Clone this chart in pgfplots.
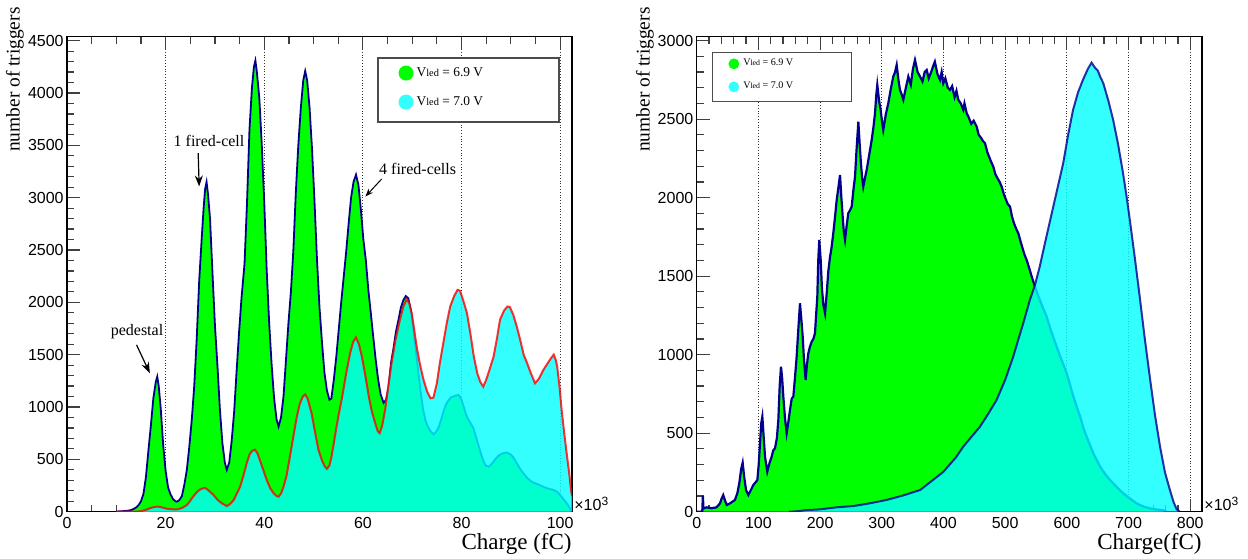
\documentclass[border=0pt]{standalone}
\usepackage{fontspec}
\setmainfont{Liberation Serif}
\setsansfont{Liberation Sans}
\usepackage{pgfplots}
\usepackage{pgfplotstable}
\pgfplotsset{compat=1.18}
\usetikzlibrary{arrows.meta}

\definecolor{hgreen}{RGB}{0,255,0}
\definecolor{hcyan}{RGB}{0,255,255}
\definecolor{hnavy}{RGB}{0,0,140}
\definecolor{hred}{RGB}{255,0,0}

% ---------------- left panel: Vled = 6.9 V ----------------
\pgfplotstableread{
x y
10.0 0
10.5 3
11.0 4
11.5 6
12.0 8
12.5 11
13.0 16
13.5 26
14.0 40
14.5 62
15.0 100
15.5 170
16.0 330
16.5 580
17.0 820
17.5 1080
18.0 1240
18.3 1290
18.6 1200
19.0 990
19.5 640
20.0 390
20.5 230
21.0 165
21.5 120
22.0 100
22.3 96
22.8 112
23.3 150
23.8 260
24.3 400
24.8 620
25.3 880
25.8 1200
26.3 1650
26.8 2200
27.3 2600
27.7 2900
28.0 3080
28.3 3150
28.6 3030
29.0 2800
29.5 2280
30.0 1780
30.5 1400
31.0 980
31.5 660
32.0 470
32.4 400
32.9 470
33.4 680
33.9 960
34.4 1350
34.9 1720
35.4 2050
36.0 2370
36.5 2950
37.0 3650
37.5 4050
37.9 4250
38.2 4310
38.5 4200
39.0 3950
39.5 3500
40.0 2950
40.5 2300
41.0 1800
41.5 1400
42.0 1080
42.5 880
42.9 813
43.4 900
43.9 1100
44.4 1450
44.9 1800
45.4 2100
45.9 2500
46.4 3050
46.9 3500
47.4 3850
47.9 4120
48.3 4210
48.7 4120
49.2 3850
49.7 3450
50.2 2950
50.7 2400
51.2 1950
51.7 1620
52.2 1330
52.7 1160
53.2 1070
53.6 1080
54.1 1260
54.6 1480
55.1 1740
55.6 2000
56.1 2240
56.6 2480
57.1 2750
57.6 3000
58.1 3150
58.6 3220
59.1 3120
59.6 2880
60.1 2600
60.6 2400
61.1 2120
61.6 1900
62.1 1670
62.6 1450
63.1 1260
63.6 1120
64.2 1040
64.7 1070
65.2 1190
65.7 1420
66.2 1560
66.7 1720
67.2 1830
67.7 1950
68.2 2020
68.7 2060
69.2 2040
69.7 1930
70.2 1750
70.7 1560
71.2 1350
71.7 1150
72.2 980
72.7 870
73.2 810
73.7 770
74.3 740
74.8 760
75.3 800
75.8 870
76.3 950
76.8 1020
77.3 1060
77.8 1090
78.3 1100
78.8 1110
79.4 1115
79.9 1080
80.4 1010
80.9 930
81.4 880
81.9 840
82.4 800
82.9 720
83.4 640
83.9 560
84.4 490
84.9 440
85.5 430
86.0 450
86.5 480
87.0 510
87.5 535
88.0 550
88.5 560
89.0 565
89.5 558
90.0 545
90.5 520
91.0 480
91.5 440
92.0 400
92.5 370
93.0 340
93.5 315
94.0 295
94.5 280
95.0 270
95.5 262
96.0 250
96.5 240
97.0 230
97.5 222
98.0 215
98.5 210
99.0 200
99.5 185
100.0 160
100.5 130
101.0 100
101.5 70
102.0 30
102.4 0
}\gL

% ---------------- left panel: Vled = 7.0 V ----------------
\pgfplotstableread{
x y
10.0 0
14.0 0
15.0 5
16.0 18
17.0 36
17.5 42
18.0 47
18.5 48
19.0 44
19.5 38
20.2 29
21.0 24
22.3 22
23.3 35
24.3 64
25.0 105
25.5 140
26.0 169
26.5 195
27.0 212
27.5 222
28.0 226
28.5 212
29.0 190
29.7 160
30.5 115
31.4 80
32.4 54
33.1 75
33.8 112
34.4 170
35.1 239
35.8 350
36.45 466
37.0 545
37.5 580
38.1 592
38.6 560
39.1 494
39.8 400
40.5 303
41.2 225
41.9 176
42.5 150
42.9 143
43.4 175
43.9 239
44.5 340
45.2 526
45.9 720
46.6 908
47.2 1030
47.8 1100
48.3 1120
48.8 1080
49.6 940
50.3 760
51.0 590
51.7 490
52.3 430
52.7 410
53.2 440
53.6 520
54.1 654
54.6 800
55.1 930
55.8 1100
56.6 1320
57.4 1514
58.0 1620
58.6 1665
59.2 1600
59.8 1482
60.5 1300
61.2 1100
61.8 960
62.5 845
63.0 770
63.4 750
63.9 820
64.5 972
65.1 1180
65.8 1419
66.6 1640
67.5 1833
68.2 1960
68.9 2030
69.4 1990
69.9 1897
70.4 1740
70.9 1578
71.6 1400
72.3 1259
73.0 1150
73.7 1084
74.3 1090
75.0 1227
75.6 1420
76.3 1610
77.0 1800
77.7 1960
78.5 2060
79.2 2120
79.7 2110
80.4 2010
81.1 1897
81.8 1700
82.5 1480
83.2 1320
83.8 1240
84.4 1195
85.0 1260
85.7 1360
86.5 1482
87.2 1660
87.8 1833
88.6 1920
89.3 1960
89.8 1955
90.5 1880
91.2 1769
92.0 1620
92.6 1500
93.3 1419
94.0 1330
94.9 1227
95.7 1270
96.6 1355
97.5 1420
98.2 1470
98.7 1500
99.1 1450
99.4 1386
99.9 1180
100.3 972
100.8 760
101.4 526
101.8 380
102.2 207
102.4 150
}\cL

% ---------------- right panel: Vled = 6.9 V ----------------
\pgfplotstableread{
x y
0 0
9 0
10 100
11 20
16 28
24 22
32 28
37.8 53
40 80
43 106
46 70
48.6 43
54 53
62 75
66 120
69 181
72 270
74.5 312
77 220
80 138
83.7 106
88 140
91.8 170
96 190
98.3 202
100.5 300
102.6 436
104.5 560
106.4 605
108.5 480
110.7 350
114.4 255
118 310
121.5 350
124 390
126.9 404
130 470
132.3 584
134.5 800
136.6 924
138.5 850
140.4 733
143 600
145.8 500
148.5 570
151.2 648
154 720
156.6 733
159 840
162 987
164.5 1150
167.4 1327
169.5 1230
171.8 1115
174 960
176.6 839
178.5 930
180.9 1009
183.5 1050
186.4 1083
189 1100
191.7 1136
193.5 1250
195.5 1370
197 1600
198.7 1731
201 1600
203 1420
205.2 1320
208 1264
210.5 1380
213.3 1530
216 1620
218.5 1680
221.4 1774
224 1870
226.9 1985
229.5 2060
232.3 2144
234.5 2000
236.6 1879
238.5 1780
240.4 1731
243 1820
245.7 1901
248.5 1920
251.2 1943
254 2050
256.6 2134
259 2300
262 2484
264 2350
265.8 2240
268 2130
270 2070
273 2130
275.5 2177
279.5 2270
283.6 2367
286.5 2450
289 2538
291 2650
292.7 2718
295.5 2620
298.2 2559
300.5 2480
302.4 2431
306.5 2530
310.5 2601
314.5 2690
318.6 2771
321.5 2800
324.1 2845
327 2750
329.5 2686
332 2660
334.9 2623
339 2700
343 2771
347 2720
350.5 2820
353.8 2877
358 2800
362 2771
366 2740
369.5 2800
372.8 2813
376 2760
380 2800
383 2835
386 2866
390 2790
394.3 2750
397 2800
399.7 2729
403 2760
407 2700
410.5 2686
414 2710
418 2640
421 2680
424 2623
428 2600
432 2560
434 2600
437.6 2538
441 2510
445 2470
449 2490
453.8 2452
457 2400
461 2380
464 2360
467.3 2347
471 2290
474 2260
477 2230
480.7 2198
484 2150
488 2120
491 2100
494.3 2070
498 2020
501 1990
504 1960
507.8 1943
511 1880
514 1840
518 1800
521.3 1773
525 1720
528 1680
531 1640
534.8 1603
539 1550
543 1497
548.3 1433
553 1380
558 1330
562 1290
567.3 1242
572 1180
578 1110
583.5 1051
589 990
594 940
599.7 882
605 810
610 740
615.9 669
622 600
627 530
632 478
638 420
643 370
648.3 329
655 280
662 240
670 202
680 160
691.4 117
700 90
713 53
724 33
734.7 21
745 14
756 9
762 0
}\gR

% ---------------- right panel: Vled = 7.0 V ----------------
\pgfplotstableread{
x y
150 0
160 2
178 10
200 15
227 28
254 36
280 53
308 75
335 104
362 138
383 202
400 255
420 345
432 414
446 480
459 541
472 620
486 711
500 840
513 987
520 1080
530 1210
540 1349
548 1440
556 1561
565 1720
573 1858
583 2030
594 2219
602 2400
610 2559
618 2670
626 2750
634 2820
640 2860
645 2830
650 2810
654 2770
659 2729
667 2620
675 2495
683 2340
691 2156
697 2000
702 1858
710 1620
718 1370
726 1110
735 839
743 610
751 414
759 250
767 138
773 60
778 15
783 0
}\cR

\pgfplotsset{
  hist/.style={
    scale only axis,
    ymin=0,
    axis line style={black, line width=0.7pt},
    tick align=inside, ytick pos=left, xtick pos=both,
    major tick length=6.5pt, minor tick length=3.5pt,
    every tick/.style={black!75, line width=0.6pt},
    xmajorgrids,
    major grid style={black!80, densely dotted, line width=0.4pt},
    scaled ticks=false,
    tick label style={font=\fontsize{8}{9}\selectfont\sffamily},
    /pgf/number format/assume math mode=true,
    /pgf/number format/1000 sep={},
    xticklabel style={inner sep=0pt, yshift=-2.5pt},
    yticklabel style={inner sep=0pt, xshift=-1.5pt},
    legend cell align=left,
  },
  legbox/.style={
    legend style={inner sep=0pt, outer sep=0pt, row sep=0pt, column sep=0pt,
      draw=black!70, line width=0.6pt, fill=white,
      nodes={inner sep=0pt, font=\fontsize{#1}{#1}\selectfont}},
  },
}

\newcommand{\vled}[3]{V{\fontsize{#1}{#1}\selectfont led} = #2 V}

\begin{document}
\begin{tikzpicture}
\useasboundingbox (0,0) rectangle (624pt,279pt);

% ====================== LEFT ======================
\begin{axis}[hist, name=L,
  at={(33.5pt,23.15pt)}, anchor=south west,
  width=252.5pt, height=237.5pt,
  xmin=0, xmax=102.4, ymax=4538,
  xtick={0,20,...,100}, minor x tick num=3,
  ytick={0,500,...,4500}, minor y tick num=4,
  legbox=6.7,
  legend style={at={(0.616,0.955)}, anchor=north west},
]
\addlegendimage{legend image code/.code={\path[draw=none,fill=none] (0pt,-7.25pt) rectangle (19.3pt,7.5pt); \path[draw=none,fill=hgreen] (14pt,0pt) circle (3.75pt);}}
\addlegendentry{\makebox[71.2pt][l]{\vled{5.2}{6.9}{}}}
\addlegendimage{legend image code/.code={\path[draw=none,fill=none] (0pt,-10pt) rectangle (19.3pt,7.25pt); \path[draw=none,fill=hcyan!80!white] (14pt,0pt) circle (3.75pt);}}
\addlegendentry{\makebox[71.2pt][l]{\vled{5.2}{7.0}{}}}

\addplot[forget plot, draw=none, fill=hgreen] table {\gL} \closedcycle;
\addplot[forget plot, hnavy, line width=0.9pt] table {\gL};
\addplot[forget plot, draw=none, fill=hcyan, fill opacity=0.8] table {\cL} \closedcycle;
\addplot[forget plot, hred, opacity=0.8, line width=1pt] table {\cL};

\node[font=\fontsize{8}{9}\selectfont, inner sep=0pt] at (axis cs:14.2,1721) {pedestal};
\draw[-{Stealth[length=5.5pt,width=4pt]}, line width=0.6pt] (axis cs:14.1,1594) -- (axis cs:16.8,1323);
\node[font=\fontsize{8}{9}\selectfont, inner sep=0pt] at (axis cs:28.8,3544) {1 fired-cell};
\draw[-{Stealth[length=5.5pt,width=4pt]}, line width=0.6pt] (axis cs:26.6,3426) -- (axis cs:26.8,3107);
\node[font=\fontsize{8}{9}\selectfont, inner sep=0pt] at (axis cs:71.1,3273) {4 fired-cells};
\draw[-{Stealth[length=4pt,width=3pt]}, line width=0.5pt] (axis cs:63.8,3178) -- (axis cs:60.5,3011);
\end{axis}

\node[rotate=90, anchor=east, inner sep=0pt, font=\fontsize{9.7}{11}\selectfont]
  at ([xshift=-26pt,yshift=14.85pt]L.north west) {number of triggers};
\node[anchor=base east, inner sep=0pt, font=\fontsize{11.5}{13}\selectfont]
  at ([yshift=-18.8pt]L.south east) {Charge (fC)};
\node[anchor=base west, inner sep=0pt, font=\fontsize{8}{9}\selectfont\sffamily]
  at ([xshift=1pt,yshift=0.5pt]L.south east) {×10\textsuperscript{3}};

% ====================== RIGHT ======================
\begin{axis}[hist, name=R,
  at={(348.35pt,23.15pt)}, anchor=south west,
  width=252.65pt, height=237.5pt,
  xmin=0, xmax=819, ymax=3025,
  xtick={0,100,...,800}, minor x tick num=4,
  ytick={0,500,...,3000}, minor y tick num=4,
  legbox=5.05,
  legend style={at={(0.032,0.966)}, anchor=north west},
]
\addlegendimage{legend image code/.code={\path[draw=none,fill=none] (0pt,-5.75pt) rectangle (15.2pt,5.5pt); \path[draw=none,fill=hgreen] (10.5pt,0pt) circle (2.7pt);}}
\addlegendentry{\makebox[54.15pt][l]{\vled{3.9}{6.9}{}}}
\addlegendimage{legend image code/.code={\path[draw=none,fill=none] (0pt,-7.5pt) rectangle (15.2pt,5.75pt); \path[draw=none,fill=hcyan!80!white] (10.5pt,0pt) circle (2.7pt);}}
\addlegendentry{\makebox[54.15pt][l]{\vled{3.9}{7.0}{}}}

\addplot[forget plot, draw=none, fill=hgreen] table {\gR} \closedcycle;
\addplot[forget plot, hnavy, line width=1.1pt] table {\gR};
\addplot[forget plot, draw=none, fill=hcyan, fill opacity=0.8] table {\cR} \closedcycle;
\addplot[forget plot, hnavy, opacity=0.8, line width=1pt] table {\cR};
\end{axis}

\node[rotate=90, anchor=east, inner sep=0pt, font=\fontsize{9.7}{11}\selectfont]
  at ([xshift=-25.85pt,yshift=14.85pt]R.north west) {number of triggers};
\node[anchor=base east, inner sep=0pt, font=\fontsize{11.5}{13}\selectfont]
  at ([yshift=-18.8pt]R.south east) {Charge(fC)};
\node[anchor=base west, inner sep=0pt, font=\fontsize{8}{9}\selectfont\sffamily]
  at ([xshift=1pt,yshift=0.5pt]R.south east) {×10\textsuperscript{3}};
\end{tikzpicture}
\end{document}
